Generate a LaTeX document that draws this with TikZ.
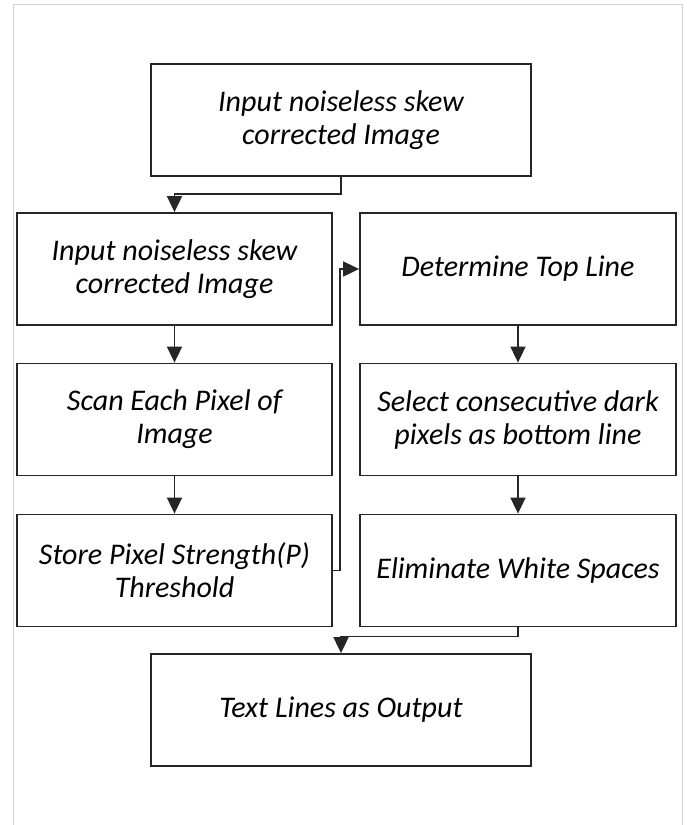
\documentclass[tikz,border=0pt]{standalone}
\usepackage{fontspec}
\setmainfont{Carlito}
\usetikzlibrary{arrows.meta}
\begin{document}
\begin{tikzpicture}[x=1pt,y=-1pt,
  box/.style={draw=black!85,line width=1.8pt,minimum height=112pt,align=center,inner sep=2pt,
    font=\fontsize{30}{33}\selectfont\itshape},
  arr/.style={draw=black!85,line width=1.8pt,-{Triangle[length=16pt,width=15pt]}},
  frame/.style={draw=black!18,line width=0.8pt}]
\useasboundingbox (0,0) rectangle (686,825);
\draw[frame] (13,830) coordinate (fa) -- (13,4) -- (682,4) -- (682,830) coordinate (fb);
\node[box,minimum width=380pt] (top) at (341,120) {Input noiseless skew\\corrected Image};
\node[box,minimum width=315pt] (L1) at (174.5,269) {Input noiseless skew\\corrected Image};
\node[box,minimum width=315pt] (L2) at (174.5,419.5) {Scan Each Pixel of\\Image};
\node[box,minimum width=315pt] (L3) at (174.5,570.5) {Store Pixel Strength(P)\\Threshold};
\node[box,minimum width=316pt] (R1) at (518,269) {Determine Top Line};
\node[box,minimum width=316pt] (R2) at (518,419.5) {Select consecutive dark\\pixels as bottom line};
\node[box,minimum width=316pt] (R3) at (518,570.5) {Eliminate White Spaces};
\node[box,minimum width=380pt] (bot) at (341,710) {Text Lines as Output};
\draw[arr] (top.south) -- ++(0,17) -| (L1.north);
\draw[arr] (L1) -- (L2);
\draw[arr] (L2) -- (L3);
\draw[arr] (L3.east) -- ++(7,0) |- (R1.west);
\draw[arr] (R1) -- (R2);
\draw[arr] (R2) -- (R3);
\draw[arr] (R3.south) -- ++(0,9) -| (bot.north);
\end{tikzpicture}
\end{document}
